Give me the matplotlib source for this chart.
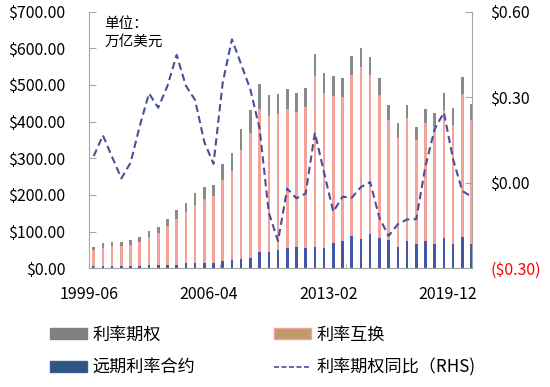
import numpy as np
import matplotlib
matplotlib.use('Agg')
import matplotlib.pyplot as plt
from matplotlib.patches import Patch
from matplotlib.lines import Line2D
from matplotlib.ticker import FuncFormatter

plt.rcParams['font.family'] = ['Noto Sans CJK SC', 'DejaVu Sans']

# 半年度数据 1999-06 ~ 2019-12, 单位: 万亿美元
fra = [5, 6, 6, 6, 6, 7, 8, 8, 10, 10, 13, 14, 15, 15, 19, 22, 26, 27, 43, 43, 50,
       55, 59, 55, 59, 55, 68, 74, 88, 81, 94, 83, 77, 59, 74, 65, 74, 66, 83, 65, 86, 65]
swaps = [45, 49, 55, 55, 58, 65, 77, 87, 105, 124, 139, 159, 175, 182, 222, 244, 296, 343, 392, 372, 372,
         380, 367, 384, 464, 424, 402, 394, 439, 467, 433, 389, 328, 297, 335, 285, 322, 320, 349, 326, 389, 340]
options = [9, 13, 11, 11, 13, 14, 17, 18, 19, 24, 25, 32, 31, 30, 43, 48, 58, 61, 68, 57, 53,
           55, 51, 53, 61, 54, 55, 52, 52, 52, 50, 46, 41, 39, 36, 36, 38, 38, 47, 45, 46, 43]
opt_yoy = [0.093, 0.166, 0.09, 0.015, 0.07, 0.199, 0.313, 0.263, 0.339, 0.448, 0.34, 0.29, 0.143, 0.066,
           0.351, 0.503, 0.415, 0.327, 0.19, -0.105, -0.205, -0.021, -0.055, -0.038, 0.175, 0.035,
           -0.102, -0.049, -0.053, -0.015, 0.002, -0.123, -0.187, -0.146, -0.129, -0.128, 0.058,
           0.188, 0.246, 0.082, -0.029, -0.049]
date_labels = ['1999-06', '2006-04', '2013-02', '2019-12']

c_opt = '#8a8a8a'
c_swap = '#f4a39b'
c_fra = '#4357a8'
c_line = '#4b4f98'
c_spine = '#a6a6a6'

n = len(fra)
x = np.arange(n)
fra = np.array(fra)
swaps = np.array(swaps)
options = np.array(options)

fig = plt.figure(figsize=(5.5, 3.87), dpi=100)
ax = fig.add_axes([0.162, 0.307, 0.697, 0.663])

w = 0.28
ax.bar(x, fra, width=w, color=c_fra)
ax.bar(x, swaps, width=w, bottom=fra, color=c_swap)
ax.bar(x, options, width=w, bottom=fra + swaps, color=c_opt)

ax.set_xlim(-0.1, n - 1 + 0.1)
ax.set_ylim(0, 700)
ax.set_yticks(np.arange(0, 701, 100))
ax.yaxis.set_major_formatter(FuncFormatter(lambda v, p: f'${v:,.2f}'))

ax2 = ax.twinx()
ax2.plot(x, opt_yoy, color=c_line, lw=1.5, ls=(0, (3.5, 2)))
ax2.set_ylim(-0.3, 0.6)
ax2.set_yticks([-0.3, 0.0, 0.3, 0.6])


def fmt_r(v, p):
    if v < -1e-9:
        return f'(${-v:.2f})'
    return f'${v:.2f}'


ax2.yaxis.set_major_formatter(FuncFormatter(fmt_r))

# 日期刻度 (每82个月)
step = (n - 1) / 3
ax.set_xticks([i * step for i in range(4)], minor=True)
ax.set_xticks([i * step * 0.95 - 0.5 for i in range(4)])
ax.set_xticklabels(date_labels)
ax.tick_params(axis='x', which='major', length=0, pad=13, labelsize=11.5)
ax.tick_params(axis='x', which='minor', direction='in', length=3, color=c_spine)
ax.tick_params(axis='y', direction='in', length=5, color=c_spine, pad=17, labelsize=11.5)
ax2.tick_params(axis='y', direction='in', length=5, color=c_spine, pad=13, labelsize=11.5)
ax2.get_yticklabels()[0].set_color('red')

for a in (ax, ax2):
    a.spines['top'].set_visible(False)
    for s in ('left', 'right', 'bottom'):
        a.spines[s].set_color(c_spine)
ax2.spines['left'].set_visible(False)
ax.spines['right'].set_visible(False)

ax.text(0.04, 0.98, '单位：\n万亿美元', transform=ax.transAxes, ha='left', va='top',
        fontsize=10.5, linespacing=1.35)

handles = [Patch(facecolor='#808080', edgecolor='#808080'),
           Patch(facecolor='#2c5580', edgecolor=c_fra),
           Patch(facecolor='#bf9b6a', edgecolor=c_swap),
           Line2D([0], [0], color=c_line, lw=1.2, ls=(0, (3, 1.5)))]
labels = ['利率期权', '远期利率合约', '利率互换', '利率期权同比（RHS)']
fig.legend(handles, labels, ncol=2, loc='center left', bbox_to_anchor=(0.09, 0.093),
           frameon=False, fontsize=12.3, handlelength=2.2, handleheight=0.6,
           handletextpad=0.3, columnspacing=4.6, labelspacing=0.85, borderpad=0,
           borderaxespad=0)

fig.savefig('out.png', dpi=100)
